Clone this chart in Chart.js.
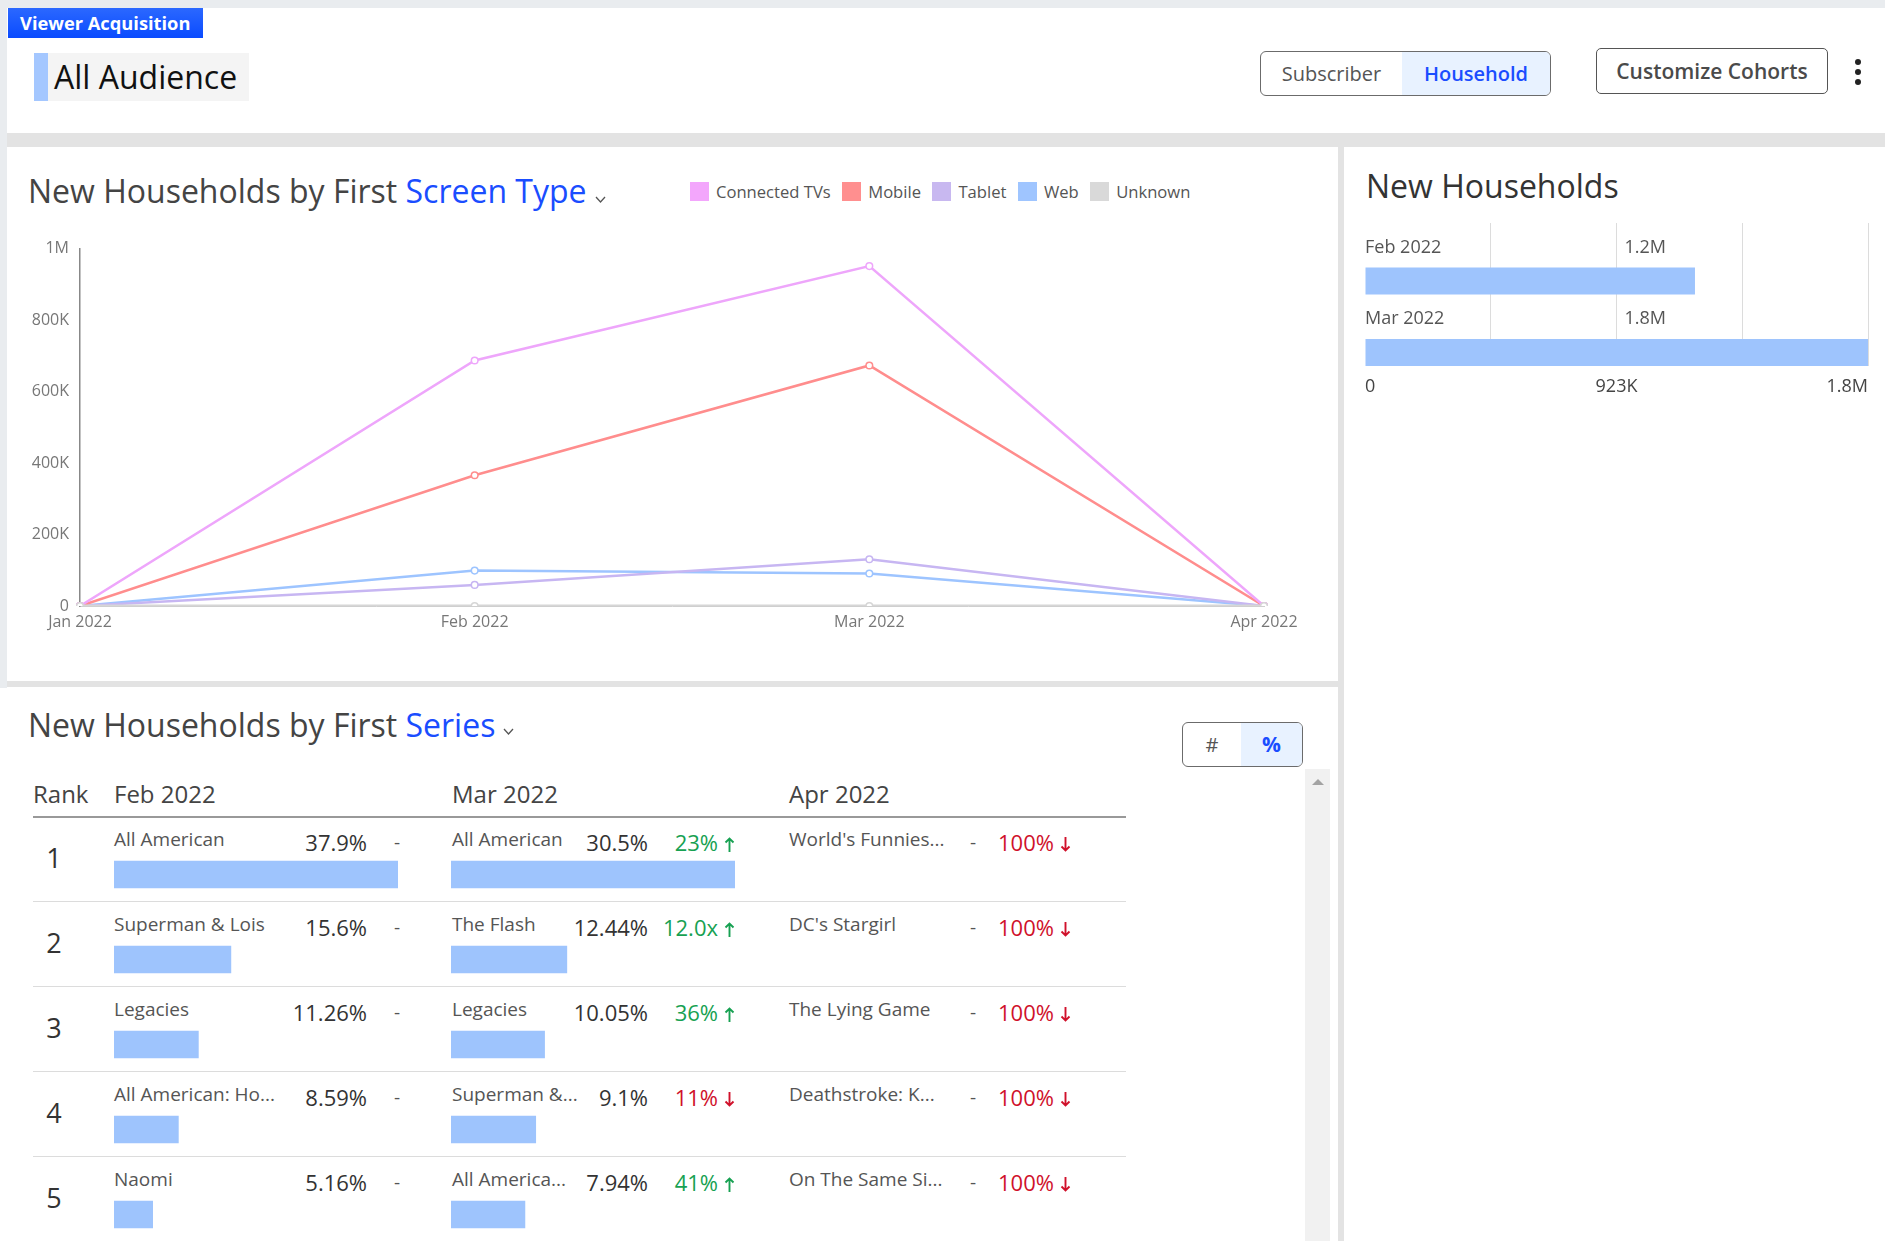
<!DOCTYPE html>
<html><head><meta charset="utf-8">
<script src="https://cdn.jsdelivr.net/npm/chart.js@4.4.1/dist/chart.umd.min.js"></script>
<style>
html,body{margin:0;padding:0;}
body{width:1885px;height:1241px;overflow:hidden;position:relative;background:#fff;font-family:'Open Sans',sans-serif;}
.a{position:absolute;white-space:nowrap;line-height:1;}
.blue{color:#1a4dff;}
canvas{position:absolute;}
</style>
</head><body>
<script>
// ---------- data ----------
const months = ["Jan 2022", "Feb 2022", "Mar 2022", "Apr 2022"];
const screenNames = ["Connected TVs", "Mobile", "Tablet", "Web", "Unknown"];
const connectedTVs = [0, 687000, 951000, 0];
const mobile = [0, 366000, 673000, 0];
const tablet = [0, 59000, 131000, 0];
const web = [0, 99000, 91000, 0];
const unknown = [0, 0, 0, 0];
const yMax = 1000000;
const yStep = 200000;

const nhMonths = ["Feb 2022", "Mar 2022"];
const nhValues = [1211000, 1846000];

const ranks = [1, 2, 3, 4, 5];
const colMonths = ["Feb 2022", "Mar 2022", "Apr 2022"];
const febNames = ["All American", "Superman & Lois", "Legacies", "All American: Ho...", "Naomi"];
const febPct = [37.9, 15.6, 11.26, 8.59, 5.16];
const febPctText = ["37.9%", "15.6%", "11.26%", "8.59%", "5.16%"];
const marNames = ["All American", "The Flash", "Legacies", "Superman &...", "All America..."];
const marPct = [30.5, 12.44, 10.05, 9.1, 7.94];
const marPctText = ["30.5%", "12.44%", "10.05%", "9.1%", "7.94%"];
const marChange = ["23%", "12.0x", "36%", "11%", "41%"];
const marDir = ["up", "up", "up", "down", "up"];
const aprNames = ["World's Funnies...", "DC's Stargirl", "The Lying Game", "Deathstroke: K...", "On The Same Si..."];
const aprChange = ["100%", "100%", "100%", "100%", "100%"];
const aprDir = ["down", "down", "down", "down", "down"];
</script>

<!-- page frame -->
<div class="a" style="left:0;top:0;width:1885px;height:8px;background:#e9ecef"></div>
<div class="a" style="left:0;top:0;width:7px;height:688px;background:#e9ecef"></div>
<div class="a" style="left:7px;top:133px;width:1878px;height:14px;background:#e3e3e3"></div>
<div class="a" style="left:1338px;top:147px;width:6px;height:1094px;background:#e3e3e3"></div>
<div class="a" style="left:7px;top:681px;width:1331px;height:6px;background:#e3e3e3"></div>

<!-- header -->
<div class="a" style="left:8px;top:8px;width:195px;height:30px;background:linear-gradient(#2b68ff,#0a4bff);color:#fff;font-weight:700;font-size:18.3px;line-height:30px;padding-left:12px;box-sizing:border-box">Viewer Acquisition</div>
<div class="a" style="left:34px;top:53px;width:215px;height:48px;background:#f4f4f4">
  <div class="a" style="left:0;top:0;width:14px;height:48px;background:#a4c7ff"></div>
  <div class="a" style="left:20px;top:0;font-size:32px;line-height:48px;color:#111">All Audience</div>
</div>
<div class="a" style="left:1260px;top:51px;width:291px;height:45px;border:1px solid #6b6b6b;border-radius:6px;box-sizing:border-box;overflow:hidden;display:flex">
  <div style="width:141px;height:43px;line-height:43px;text-align:center;font-size:20px;color:#555">Subscriber</div>
  <div style="width:148px;height:43px;line-height:43px;text-align:center;font-size:20px;color:#1a4dff;font-weight:600;background:#e8f2ff">Household</div>
</div>
<div class="a" style="left:1596px;top:48px;width:232px;height:46px;border:1px solid #555;border-radius:5px;box-sizing:border-box;line-height:44px;text-align:center;font-size:21px;font-weight:600;color:#4a4a4a">Customize Cohorts</div>
<div class="a" style="left:1855px;top:59px;width:6px;height:6px;border-radius:3px;background:#222"></div>
<div class="a" style="left:1855px;top:69px;width:6px;height:6px;border-radius:3px;background:#222"></div>
<div class="a" style="left:1855px;top:79px;width:6px;height:6px;border-radius:3px;background:#222"></div>

<!-- line chart panel -->
<div class="a" style="left:28px;top:174.6px;font-size:32px;color:#444">New Households by First <span class="blue">Screen Type</span><svg width="11" height="7" style="margin-left:8px;vertical-align:baseline"><polyline points="1,1 5.5,6 10,1" fill="none" stroke="#555" stroke-width="1.3"/></svg></div>
<div class="a" id="legend" style="left:690px;top:182px;height:19px;display:flex;align-items:center"></div>
<canvas id="lineChart" width="1330" height="410" style="left:8px;top:228px"></canvas>

<!-- right panel -->
<div class="a" style="left:1366px;top:169.6px;font-size:32px;color:#333">New Households</div>
<canvas id="nhChart" width="541" height="187" style="left:1344px;top:213px"></canvas>

<!-- table panel -->
<div class="a" style="left:28px;top:708.6px;font-size:32px;color:#444">New Households by First <span class="blue">Series</span><svg width="11" height="7" style="margin-left:8px;vertical-align:2px"><polyline points="1,1 5.5,6 10,1" fill="none" stroke="#555" stroke-width="1.3"/></svg></div>
<div class="a" style="left:1182px;top:722px;width:121px;height:45px;border:1px solid #6b6b6b;border-radius:6px;box-sizing:border-box;overflow:hidden;display:flex">
  <div style="width:58px;height:43px;line-height:43px;text-align:center;font-size:20px;color:#555">#</div>
  <div style="width:61px;height:43px;line-height:43px;text-align:center;font-size:21px;color:#1a4dff;font-weight:700;background:#e8f2ff">%</div>
</div>
<div class="a" style="left:1305px;top:769px;width:25px;height:472px;background:#f1f1f1"></div>
<div class="a" style="left:1312px;top:779px;width:0;height:0;border-left:6px solid transparent;border-right:6px solid transparent;border-bottom:6px solid #a3a3a3"></div>
<div id="table"></div>
<canvas id="febBars" width="284" height="425" style="left:114px;top:832px"></canvas>
<canvas id="marBars" width="284" height="425" style="left:451px;top:832px"></canvas>

<script>
Chart.defaults.font.family = "'Open Sans', sans-serif";
Chart.defaults.animation = false;

const lineColors = ['#eea6fb', '#ff8d8d', '#c7b6f2', '#9dc4ff', '#d6d6d6'];
const legendColors = ['#f3a6fc', '#ff8f8f', '#c8b8f0', '#9fc5ff', '#d9d9d9'];
const barColor = '#9ec4fd';
const green = '#17a152', red = '#d0112b';

function fmtShort(v) {
  if (v === 0) return '0';
  if (v >= 1e6) { const m = v / 1e6; return (Number.isInteger(m) ? m : m.toFixed(1)) + 'M'; }
  return Math.round(v / 1e3) + 'K';
}

// legend
const legend = document.getElementById('legend');
screenNames.forEach((n, i) => {
  const sq = document.createElement('div');
  sq.style.cssText = `width:19px;height:19px;background:${legendColors[i]};flex:none`;
  const tx = document.createElement('div');
  tx.textContent = n;
  tx.style.cssText = 'font-size:16.6px;color:#555;margin-left:7px;margin-right:11.5px;line-height:19px';
  legend.appendChild(sq); legend.appendChild(tx);
});

// line chart
const series = [connectedTVs, mobile, tablet, web, unknown];
new Chart(document.getElementById('lineChart'), {
  type: 'line',
  data: {
    labels: months,
    datasets: series.map((d, i) => ({
      label: screenNames[i], data: d,
      borderColor: lineColors[i], backgroundColor: '#fff',
      pointBorderColor: lineColors[i], pointBackgroundColor: '#fff',
      pointRadius: 3.3, pointBorderWidth: 1.5, borderWidth: i === 4 ? 3 : 2.5,
      tension: 0, order: i === 4 ? -1 : i
    }))
  },
  options: {
    responsive: false, animation: false,
    layout: { padding: { left: 0, top: 2, right: 74, bottom: 0 } },
    plugins: { legend: { display: false }, tooltip: { enabled: false } },
    scales: {
      x: {
        grid: { display: false, drawTicks: false },
        border: { display: true, color: '#cfcfcf', width: 1 },
        ticks: { color: '#777', font: { size: 16 }, padding: 7, maxRotation: 0, autoSkip: false },
        afterFit: s => { s.height = 32; }
      },
      y: {
        min: 0, max: yMax,
        grid: { display: false, drawTicks: false },
        border: { display: true, color: '#888', width: 1.5 },
        ticks: { stepSize: yStep, color: '#777', font: { size: 16 }, padding: 11, callback: v => fmtShort(v) },
        afterFit: s => { s.width = 72; }
      }
    }
  }
});

// New Households horizontal bars
const nhAxisMax = Math.max(...nhValues);
const nhLabelPlugin = {
  id: 'nhLabels',
  afterDatasetsDraw(chart) {
    const ctx = chart.ctx, meta = chart.getDatasetMeta(1), xs = chart.scales.x;
    ctx.save();
    ctx.font = "18px 'Open Sans'";
    ctx.fillStyle = '#555';
    ctx.textBaseline = 'middle';
    ctx.textAlign = 'left';
    meta.data.forEach((bar, i) => {
      const y = bar.y - bar.height / 2 - 20;
      ctx.fillText(nhMonths[i], chart.chartArea.left, y);
      ctx.fillText(fmtShort(nhValues[i]), xs.getPixelForValue(nhAxisMax / 2) + 8, y);
    });
    ctx.restore();
  }
};
new Chart(document.getElementById('nhChart'), {
  type: 'bar',
  data: {
    labels: nhMonths,
    datasets: [
      { data: nhMonths.map(() => null), categoryPercentage: 1.2448, barPercentage: 0.6067 },
      { data: nhValues, backgroundColor: barColor, categoryPercentage: 1.2448, barPercentage: 0.6067 }
    ]
  },
  options: {
    indexAxis: 'y', responsive: false, animation: false,
    layout: { padding: { left: 21, right: 17, top: 10, bottom: 0 } },
    plugins: { legend: { display: false }, tooltip: { enabled: false } },
    scales: {
      y: { display: false },
      x: {
        min: 0, max: nhAxisMax,
        grid: { color: c => c.index === 0 ? 'rgba(0,0,0,0)' : '#dcdcdc', drawTicks: false },
        border: { display: false },
        ticks: { stepSize: nhAxisMax / 4, align: 'inner', color: '#444', font: { size: 18 }, padding: 10,
          callback: (v, i) => i % 2 === 0 ? fmtShort(v) : '' },
        afterFit: s => { s.height = 34; }
      }
    }
  },
  plugins: [nhLabelPlugin]
});

// table text
const T = document.getElementById('table');
const SVGNS = 'http://www.w3.org/2000/svg';
function txt(s, left, baseline, size, color, extra) {
  const d = document.createElement('div');
  d.className = 'a';
  d.textContent = s;
  d.style.cssText += `left:${left}px;top:${(baseline - 0.888 * size).toFixed(1)}px;font-size:${size}px;color:${color};` + (extra || '');
  T.appendChild(d);
  return d;
}
function rtxt(s, right, baseline, size, color, extra) {
  const d = txt(s, 0, baseline, size, color, extra);
  d.style.left = ''; d.style.right = (1885 - right) + 'px';
  return d;
}
function addArrow(el, dir, color) {
  const svg = document.createElementNS(SVGNS, 'svg');
  svg.setAttribute('width', '11'); svg.setAttribute('height', '15');
  svg.style.cssText = 'margin-left:6px;vertical-align:-1px';
  const p = document.createElementNS(SVGNS, 'path');
  p.setAttribute('d', dir === 'up' ? 'M5.5 15 V1.5 M1.5 5.5 L5.5 1.5 L9.5 5.5' : 'M5.5 0 V13.5 M1.5 9.5 L5.5 13.5 L9.5 9.5');
  p.setAttribute('fill', 'none'); p.setAttribute('stroke', color); p.setAttribute('stroke-width', '1.9');
  svg.appendChild(p); el.appendChild(svg);
}
txt('Rank', 33, 803, 24, '#444');
txt(colMonths[0], 114, 803, 24, '#444');
txt(colMonths[1], 452, 803, 24, '#444');
txt(colMonths[2], 789, 803, 24, '#444');
const hl = document.createElement('div');
hl.className = 'a'; hl.style.cssText += 'left:33px;top:816px;width:1093px;height:2px;background:#999';
T.appendChild(hl);
ranks.forEach((r, i) => {
  const t = 817 + 85 * i;
  txt(String(r), 40, t + 51, 27, '#333', 'width:28px;text-align:center');
  txt(febNames[i], 114, t + 30, 19, '#555');
  rtxt(febPctText[i], 367, t + 33, 22, '#333');
  txt('-', 394, t + 33, 19, '#555');
  txt(marNames[i], 452, t + 30, 19, '#555');
  rtxt(marPctText[i], 648, t + 33, 22, '#333');
  const mc = rtxt(marChange[i], 735, t + 33, 22, marDir[i] === 'up' ? green : red);
  addArrow(mc, marDir[i], marDir[i] === 'up' ? green : red);
  txt(aprNames[i], 789, t + 30, 19, '#555');
  txt('-', 970, t + 33, 19, '#555');
  const ac = txt(aprChange[i], 998, t + 33, 22, aprDir[i] === 'up' ? green : red);
  addArrow(ac, aprDir[i], aprDir[i] === 'up' ? green : red);
  const sep = document.createElement('div');
  sep.className = 'a'; sep.style.cssText += `left:33px;top:${t + 84}px;width:1093px;height:1px;background:#dcdcdc`;
  T.appendChild(sep);
});

// table bars
function columnBars(id, values) {
  new Chart(document.getElementById(id), {
    type: 'bar',
    data: { labels: ranks.map(String), datasets: [{ data: values, backgroundColor: barColor, barThickness: 27 }] },
    options: {
      indexAxis: 'y', responsive: false, animation: false,
      layout: { padding: 0 },
      plugins: { legend: { display: false }, tooltip: { enabled: false } },
      scales: { x: { display: false, min: 0, max: Math.max(...values) }, y: { display: false } }
    }
  });
}
columnBars('febBars', febPct);
columnBars('marBars', marPct);
</script>
</body></html>
